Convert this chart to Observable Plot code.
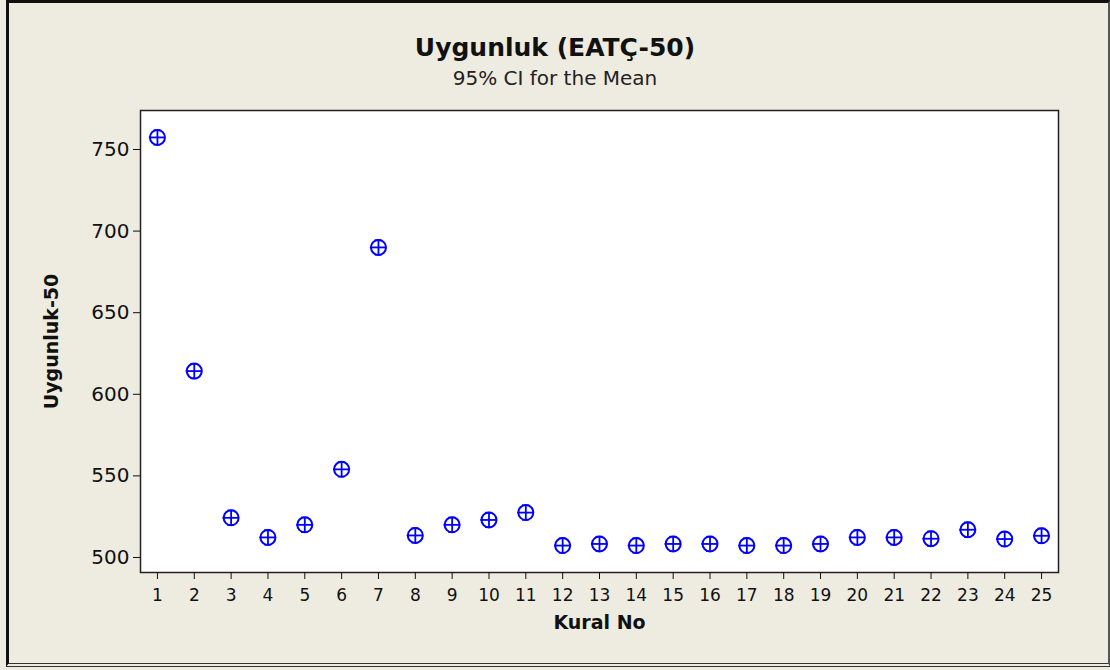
<!DOCTYPE html>
<html>
<head>
<meta charset="utf-8">
<script src="https://cdn.jsdelivr.net/npm/d3@7"></script>
<script src="https://cdn.jsdelivr.net/npm/@observablehq/plot@0.6"></script>
<style>
  html, body { margin: 0; padding: 0; background: #eeebe0; }
  #wrap { position: relative; width: 1110px; height: 670px; background: #eeebe0; overflow: hidden; font-family: "DejaVu Sans", Verdana, sans-serif; }
  #frame { position: absolute; left: 6px; top: 0px; width: 1099px; height: 660px; border-left: 3px solid #111; border-top: 3px solid #111; border-right: 2px solid #555; border-bottom: 4px double #333; }
  #titles { position: absolute; left: 0; top: 0; width: 1110px; height: 100px; text-align: center; }
  #title { position: absolute; left: 0; width: 1110px; top: 33px; font-weight: bold; font-size: 25px; color: #111; }
  #subtitle { position: absolute; left: 0; width: 1110px; top: 66px; font-size: 20px; color: #222; }
  #chart { position: absolute; left: 0; top: 100px; }
</style>
</head>
<body>
<div id="wrap">
  <div id="frame"></div>
  <div id="titles">
    <div id="title">Uygunluk (EATÇ-50)</div>
    <div id="subtitle">95% CI for the Mean</div>
  </div>
  <div id="chart"></div>
</div>
<script>
const kural = [1,2,3,4,5,6,7,8,9,10,11,12,13,14,15,16,17,18,19,20,21,22,23,24,25];
const meanVals = [757.4,614.2,524.3,512.3,520.0,554.0,690.0,513.5,520.0,523.0,527.5,507.3,508.3,507.3,508.3,508.3,507.3,507.3,508.3,512.3,512.3,511.5,517.0,511.3,513.3];
const lowVals  = [752.9,609.7,519.8,507.8,515.5,549.5,685.5,509.0,515.5,518.5,523.0,502.8,503.8,502.8,503.8,503.8,502.8,502.8,503.8,507.8,507.8,507.0,512.5,506.8,508.8];
const highVals = [761.9,618.7,528.8,516.8,524.5,558.5,694.5,518.0,524.5,527.5,532.0,511.8,512.8,511.8,512.8,512.8,511.8,511.8,512.8,516.8,516.8,516.0,521.5,515.8,517.8];
const yTicks = [500,550,600,650,700,750];
const xTicks = kural;

const data = kural.map((k, i) => ({k, mean: meanVals[i], lo: lowVals[i], hi: highVals[i]}));
const blue = "#0000ff";

const chart = Plot.plot({
  width: 1110,
  height: 570,
  marginLeft: 140,
  marginRight: 52,
  marginTop: 10,
  marginBottom: 98,
  style: { fontFamily: "'DejaVu Sans', Verdana, sans-serif", background: "transparent", color: "#111" },
  x: { domain: [0.54, 25.46] },
  y: { domain: [490.8, 773.9] },
  marks: [
    Plot.frame({ fill: "white", stroke: "#222", strokeWidth: 1.5 }),
    Plot.axisY({ ticks: yTicks, tickSize: 7, tickPadding: 4, fontSize: 20, label: "Uygunluk-50", labelAnchor: "center", labelArrow: "none", labelOffset: 96 }),
    Plot.axisX({ ticks: xTicks, tickSize: 7, tickPadding: 9, fontSize: 17, tickFormat: d => String(d), label: "Kural No", labelAnchor: "center", labelArrow: "none", labelOffset: 56 }),
    Plot.ruleX(data, { x: "k", y1: "lo", y2: "hi", stroke: blue, strokeWidth: 1.8 }),
    Plot.ruleY(data, { y: "lo", x1: d => d.k - 0.09, x2: d => d.k + 0.09, stroke: blue, strokeWidth: 1.5 }),
    Plot.ruleY(data, { y: "hi", x1: d => d.k - 0.09, x2: d => d.k + 0.09, stroke: blue, strokeWidth: 1.5 }),
    Plot.ruleY(data, { y: "mean", x1: d => d.k - 0.22, x2: d => d.k + 0.22, stroke: blue, strokeWidth: 1.8 }),
    Plot.dot(data, { x: "k", y: "mean", r: 7.5, stroke: blue, strokeWidth: 2, fill: "none" })
  ]
});

// style axis labels bold
chart.querySelectorAll("g[aria-label='y-axis label'] text, g[aria-label='x-axis label'] text").forEach(t => {
  t.setAttribute("font-weight", "bold");
  t.setAttribute("font-size", "19");
});
document.getElementById("chart").appendChild(chart);
</script>
</body>
</html>
